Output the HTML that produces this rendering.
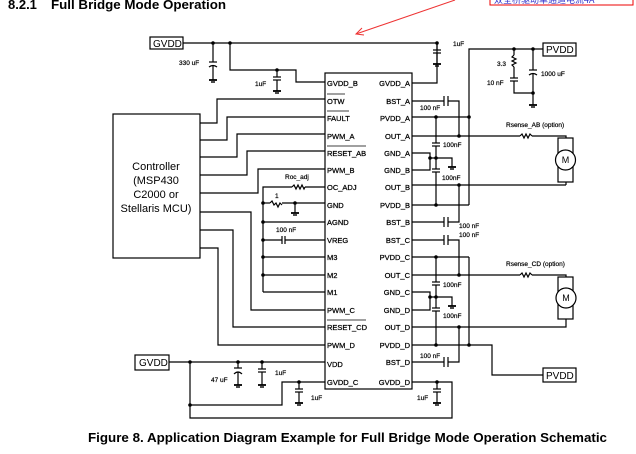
<!DOCTYPE html>
<html><head><style>
body{margin:0;background:#fff;}
svg{display:block;font-family:"Liberation Sans",Arial,sans-serif;}
</style></head><body>
<svg width="636" height="454" viewBox="0 0 636 454" xmlns="http://www.w3.org/2000/svg">
<defs>
<g id="gnd"><line x1="-4" y1="0" x2="4" y2="0" stroke="#000" stroke-width="1.8"/><line x1="-2" y1="2" x2="2" y2="2" stroke="#000" stroke-width="1.4"/></g>
</defs>
<text x="8" y="9" font-size="13" font-weight="bold">8.2.1</text>
<text x="51" y="9" font-size="13" font-weight="bold" textLength="175" lengthAdjust="spacingAndGlyphs">Full Bridge Mode Operation</text>
<rect x="490" y="-6" width="143" height="11" fill="none" stroke="#e00" stroke-width="1"/>
<text x="494" y="3" font-size="9" fill="#33c" font-family="Noto Sans CJK SC,sans-serif">双全桥驱动单通道电流4A</text>
<line x1="455" y1="0" x2="356" y2="34" stroke="#e33" stroke-width="1"/>
<polyline points="362,28 356,34 364,35" fill="none" stroke="#e33" stroke-width="1"/>

<g stroke="#000" stroke-width="1.2" fill="none">
<rect x="150" y="37" width="33" height="12"/>
<rect x="113" y="114" width="87" height="144"/>
<rect x="325" y="73" width="87" height="316"/>
<rect x="543" y="43" width="33" height="13"/>
<rect x="543" y="368" width="33" height="14"/>
<rect x="135" y="355" width="34" height="15"/>
<rect x="558" y="138" width="15" height="44"/>
<circle cx="565.5" cy="160" r="10" fill="#fff"/>
<rect x="558" y="277" width="15" height="42"/>
<circle cx="566" cy="298" r="10" fill="#fff"/>

<polyline points="183,43 437,43 437,83 412,83"/>
<polyline points="230,43 230,70 296,70 296,82 325,82"/>
<line x1="213" y1="43" x2="213" y2="62"/><line x1="209" y1="62" x2="217" y2="62"/><path d="M209 67 Q213 64 217 67"/><line x1="213" y1="66" x2="213" y2="80"/>
<line x1="277" y1="70" x2="277" y2="77"/><line x1="273" y1="77" x2="281" y2="77"/><line x1="273" y1="80" x2="281" y2="80"/><line x1="277" y1="80" x2="277" y2="91"/>
<line x1="437" y1="43" x2="437" y2="50"/><line x1="433" y1="50" x2="441" y2="50"/><line x1="433" y1="53" x2="441" y2="53"/><line x1="437" y1="53" x2="437" y2="64"/>

<polyline points="200,123 217,123 217,99 325,99"/>
<polyline points="200,140 227,140 227,117 325,117"/>
<polyline points="200,157 237,157 237,134 325,134"/>
<polyline points="200,175 247,175 247,151 325,151"/>
<polyline points="200,193 258,193 258,169 325,169"/>
<polyline points="200,212 251,212 251,310 325,310"/>
<polyline points="200,230 233,230 233,327 325,327"/>
<polyline points="200,248 218,248 218,345 325,345"/>

<polyline points="263,292 263,187 292,187"/>
<path d="M292 187 l2 -2 l2 4 l2 -4 l2 4 l2 -4 l2 4 l1 -2"/>
<line x1="305" y1="187" x2="325" y2="187"/>
<line x1="263" y1="203" x2="270" y2="203"/><path d="M270 203 l2 -2 l2 4 l2 -2 l2 4 l2 -4 l2 2"/><line x1="282" y1="203" x2="325" y2="203"/>
<line x1="295" y1="203" x2="295" y2="213"/>
<line x1="263" y1="222" x2="325" y2="222"/>
<line x1="263" y1="240" x2="282" y2="240"/><line x1="282" y1="236" x2="282" y2="244"/><line x1="285" y1="236" x2="285" y2="244"/><line x1="285" y1="240" x2="325" y2="240"/>
<line x1="263" y1="257" x2="325" y2="257"/>
<line x1="263" y1="275" x2="325" y2="275"/>
<line x1="263" y1="292" x2="325" y2="292"/>

<polyline points="169,362 325,362"/>
<polyline points="190,362 190,418 452,418 452,382 412,382"/>
<polyline points="190,405 282,405 282,382 325,382"/>
<line x1="238" y1="362" x2="238" y2="368"/><line x1="234" y1="368" x2="242" y2="368"/><path d="M234 374 Q238 370 242 374"/><line x1="238" y1="372" x2="238" y2="385"/>
<line x1="262" y1="362" x2="262" y2="369"/><line x1="258" y1="369" x2="266" y2="369"/><line x1="258" y1="372" x2="266" y2="372"/><line x1="262" y1="372" x2="262" y2="385"/>
<line x1="299" y1="382" x2="299" y2="389"/><line x1="295" y1="389" x2="303" y2="389"/><line x1="295" y1="392" x2="303" y2="392"/><line x1="299" y1="392" x2="299" y2="403"/>
<line x1="437" y1="382" x2="437" y2="389"/><line x1="433" y1="389" x2="441" y2="389"/><line x1="433" y1="392" x2="441" y2="392"/><line x1="437" y1="392" x2="437" y2="403"/>

<polyline points="412,101 444,101"/><line x1="444" y1="96" x2="444" y2="106"/><line x1="448" y1="96" x2="448" y2="106"/><polyline points="448,101 459,101 459,136"/>
<line x1="412" y1="117" x2="469" y2="117"/>
<polyline points="469,205 469,49 543,49"/>
<line x1="412" y1="136" x2="520" y2="136"/><path d="M520 136 l2 -2 l2 4 l2 -4 l2 4 l2 -4 l2 2"/><polyline points="532,136 566,136 566,138"/>
<line x1="412" y1="185" x2="566" y2="185"/><line x1="566" y1="185" x2="566" y2="182"/>
<line x1="412" y1="205" x2="469" y2="205"/>
<line x1="436" y1="117" x2="436" y2="143"/><line x1="432" y1="143" x2="440" y2="143"/><line x1="432" y1="146" x2="440" y2="146"/><line x1="436" y1="146" x2="436" y2="169"/><line x1="432" y1="169" x2="440" y2="169"/><line x1="432" y1="172" x2="440" y2="172"/><line x1="436" y1="172" x2="436" y2="205"/>
<polyline points="412,153 430,153 430,170 412,170"/><polyline points="430,158 452,158 452,167"/>
<polyline points="412,222 444,222"/><line x1="444" y1="217" x2="444" y2="227"/><line x1="448" y1="217" x2="448" y2="227"/><polyline points="448,222 459,222 459,185"/>
<line x1="514" y1="49" x2="514" y2="55"/><path d="M514 55 l-2 2 l4 2 l-4 2 l4 2 l-4 2 l2 2"/><line x1="514" y1="67" x2="514" y2="78"/><line x1="510" y1="78" x2="518" y2="78"/><line x1="510" y1="81" x2="518" y2="81"/><polyline points="514,81 514,93 533,93"/>
<line x1="533" y1="49" x2="533" y2="70"/><line x1="529" y1="70" x2="537" y2="70"/><path d="M529 75 Q533 72 537 75"/><line x1="533" y1="74" x2="533" y2="105"/>

<polyline points="412,240 444,240"/><line x1="444" y1="235" x2="444" y2="245"/><line x1="448" y1="235" x2="448" y2="245"/><polyline points="448,240 459,240 459,275"/>
<line x1="412" y1="257" x2="469" y2="257"/>
<line x1="469" y1="257" x2="469" y2="345"/>
<line x1="412" y1="275" x2="520" y2="275"/><path d="M520 275 l2 -2 l2 4 l2 -4 l2 4 l2 -4 l2 2"/><polyline points="532,275 566,275 566,277"/>
<polyline points="412,327 566,327 566,319"/>
<polyline points="412,345 492,345 492,375 543,375"/>
<line x1="436" y1="257" x2="436" y2="282"/><line x1="432" y1="282" x2="440" y2="282"/><line x1="432" y1="285" x2="440" y2="285"/><line x1="436" y1="285" x2="436" y2="308"/><line x1="432" y1="308" x2="440" y2="308"/><line x1="432" y1="311" x2="440" y2="311"/><line x1="436" y1="311" x2="436" y2="345"/>
<polyline points="412,292 430,292 430,310 412,310"/><polyline points="430,297 452,297 452,306"/>
<polyline points="412,362 444,362"/><line x1="444" y1="357" x2="444" y2="367"/><line x1="448" y1="357" x2="448" y2="367"/><polyline points="448,362 459,362 459,327"/>
</g>
<use href="#gnd" x="213" y="80"/><use href="#gnd" x="277" y="91"/><use href="#gnd" x="437" y="64"/><use href="#gnd" x="533" y="105"/>
<use href="#gnd" x="295" y="213"/><use href="#gnd" x="452" y="167"/><use href="#gnd" x="452" y="306"/>
<use href="#gnd" x="238" y="385"/><use href="#gnd" x="262" y="385"/><use href="#gnd" x="299" y="403"/><use href="#gnd" x="437" y="403"/>
<g fill="#000">
<circle cx="213" cy="43" r="1.8"/><circle cx="230" cy="43" r="1.8"/><circle cx="277" cy="70" r="1.8"/><circle cx="437" cy="43" r="1.8"/>
<circle cx="514" cy="49" r="1.8"/><circle cx="533" cy="49" r="1.8"/><circle cx="533" cy="93" r="1.8"/>
<circle cx="263" cy="203" r="1.8"/><circle cx="295" cy="203" r="1.8"/><circle cx="263" cy="222" r="1.8"/><circle cx="263" cy="240" r="1.8"/><circle cx="263" cy="257" r="1.8"/><circle cx="263" cy="275" r="1.8"/>
<circle cx="436" cy="117" r="1.8"/><circle cx="469" cy="117" r="1.8"/><circle cx="459" cy="136" r="1.8"/><circle cx="436" cy="158" r="1.8"/><circle cx="430" cy="158" r="1.8"/><circle cx="459" cy="185" r="1.8"/><circle cx="436" cy="205" r="1.8"/>
<circle cx="436" cy="257" r="1.8"/><circle cx="459" cy="275" r="1.8"/><circle cx="436" cy="297" r="1.8"/><circle cx="430" cy="297" r="1.8"/><circle cx="459" cy="327" r="1.8"/><circle cx="436" cy="345" r="1.8"/><circle cx="469" cy="345" r="1.8"/>
<circle cx="190" cy="362" r="1.8"/><circle cx="238" cy="362" r="1.8"/><circle cx="262" cy="362" r="1.8"/><circle cx="299" cy="382" r="1.8"/><circle cx="190" cy="405" r="1.8"/><circle cx="437" cy="382" r="1.8"/>
</g>
<g font-size="10"><text x="153" y="47">GVDD</text><text x="546" y="53">PVDD</text><text x="546" y="379">PVDD</text><text x="139" y="366">GVDD</text></g>
<g font-size="11" text-anchor="middle"><text x="156" y="170">Controller</text><text x="156" y="184">(MSP430</text><text x="156" y="198">C2000 or</text><text x="156" y="212">Stellaris MCU)</text></g>
<g font-size="9" text-anchor="middle"><text x="565.5" y="163">M</text><text x="566" y="301">M</text></g>
<g font-size="7.5" stroke="#000" stroke-width="0.25">
<text x="327" y="86">GVDD_B</text><text x="327" y="104">OTW</text><text x="327" y="121">FAULT</text><text x="327" y="139">PWM_A</text><text x="327" y="156">RESET_AB</text><text x="327" y="173">PWM_B</text><text x="327" y="190">OC_ADJ</text><text x="327" y="208">GND</text><text x="327" y="225">AGND</text><text x="327" y="243">VREG</text><text x="327" y="260">M3</text><text x="327" y="278">M2</text><text x="327" y="295">M1</text><text x="327" y="313">PWM_C</text><text x="327" y="330">RESET_CD</text><text x="327" y="348">PWM_D</text><text x="327" y="367">VDD</text><text x="327" y="385">GVDD_C</text>
</g>
<g font-size="7.5" text-anchor="end" stroke="#000" stroke-width="0.25">
<text x="410" y="86">GVDD_A</text><text x="410" y="104">BST_A</text><text x="410" y="121">PVDD_A</text><text x="410" y="139">OUT_A</text><text x="410" y="156">GND_A</text><text x="410" y="173">GND_B</text><text x="410" y="190">OUT_B</text><text x="410" y="208">PVDD_B</text><text x="410" y="225">BST_B</text><text x="410" y="243">BST_C</text><text x="410" y="260">PVDD_C</text><text x="410" y="278">OUT_C</text><text x="410" y="295">GND_C</text><text x="410" y="313">GND_D</text><text x="410" y="330">OUT_D</text><text x="410" y="348">PVDD_D</text><text x="410" y="365">BST_D</text><text x="410" y="385">GVDD_D</text>
</g>
<g stroke="#000" stroke-width="0.8"><line x1="327" y1="94" x2="345" y2="94"/><line x1="327" y1="111" x2="349" y2="111"/><line x1="327" y1="146" x2="366" y2="146"/><line x1="327" y1="320" x2="366" y2="320"/></g>
<g font-size="6.5" stroke="#000" stroke-width="0.2">
<text x="179" y="65">330 uF</text><text x="255" y="86">1uF</text><text x="453" y="46">1uF</text>
<text x="497" y="66">3.3</text><text x="487" y="85">10 nF</text><text x="541" y="76">1000 uF</text>
<text x="420" y="110">100 nF</text><text x="443" y="147">100nF</text><text x="442" y="180">100nF</text>
<text x="506" y="127">Rsense_AB (option)</text><text x="506" y="266">Rsense_CD (option)</text>
<text x="459" y="228">100 nF</text><text x="459" y="237">100 nF</text>
<text x="443" y="287">100nF</text><text x="443" y="318">100nF</text><text x="420" y="358">100 nF</text>
<text x="285" y="179">Roc_adj</text><text x="275" y="198">1</text><text x="276" y="232">100 nF</text>
<text x="211" y="382">47 uF</text><text x="275" y="375">1uF</text><text x="311" y="400">1uF</text><text x="417" y="400">1uF</text>
</g>
<text x="88" y="442" font-size="13" font-weight="bold" textLength="519" lengthAdjust="spacingAndGlyphs">Figure 8.  Application Diagram Example for Full Bridge Mode Operation Schematic</text>
</svg>
</body></html>
